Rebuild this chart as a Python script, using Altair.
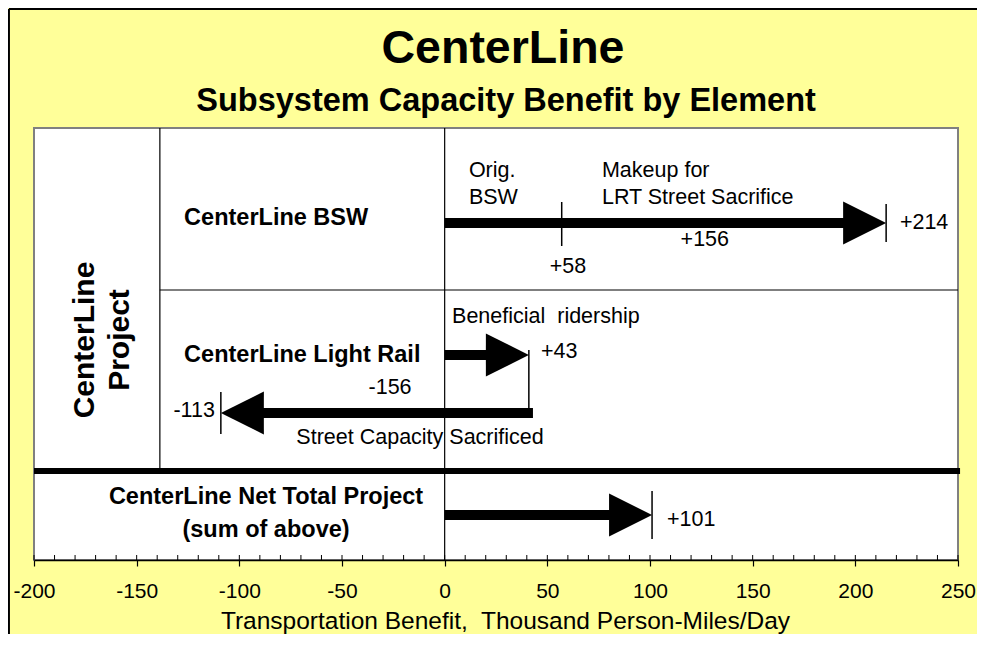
import altair as alt
import pandas as pd

# ---------------- data ----------------
arrow_ids = ["bsw", "lrt_plus", "lrt_minus", "net"]
arrow_start = [0, 0, 43, 0]
arrow_end = [215, 41, -109, 101]
mid_tick = [57]                     # the +58 boundary on the BSW arrow
axis_values = [-200, -150, -100, -50, 0, 50, 100, 150, 200, 250]
minor_values = list(range(-200, 251, 10))

note_texts = ["Orig.", "BSW", "Makeup for", "LRT Street Sacrifice",
              "+156", "+58", "+214", "Beneficial\u00a0 ridership", "+43",
              "-156", "-113", "Street Capacity Sacrificed", "+101"]
row_texts = ["CenterLine BSW", "CenterLine Light Rail",
             "CenterLine Net Total Project", "(sum of above)"]
group_texts = ["CenterLine", "Project"]
title_text = "CenterLine"
subtitle_text = "Subsystem Capacity Benefit by Element"
axis_title = "Transportation Benefit,\u00a0 Thousand Person-Miles/Day"

# ---------------- layout (plot-pixel lanes from top, x in axis units) ----------------
W, H = 924, 432
lane = {"bsw": 95, "lrt_plus": 227, "lrt_minus": 285, "net": 387}
SEP_X = -138.7
ROW_SEP = 162
THICK = 343

note_x = [11.8, 11.8, 76.6, 76.6, 126.7, 60, 221.7, 3.6, 46.9, -26.6, -111.9, -12, 108.3]
note_y = [43, 70, 43, 70, 112, 139, 95, 189, 224, 260, 283, 310, 392]
note_align = ["left", "left", "left", "left", "center", "center", "left", "left",
              "left", "center", "right", "center", "left"]
row_x = [-126.9, -126.9, -87, -87]
row_y = [90, 227, 369, 402]
row_align = ["left", "left", "center", "center"]
group_x = [-175.2, -158.1]
group_y = [212, 212]

FONT = "Liberation Sans"
BG = "#ffff99"

xs = alt.Scale(domain=[-200, 250], nice=False, zero=False)
ys = alt.Scale(domain=[0, H], reverse=True, nice=False, zero=False)

# arrows
arr = pd.DataFrame({"id": arrow_ids, "start": arrow_start, "end": arrow_end})
arr["lane"] = arr["id"].map(lane)
arr["sign"] = [1 if e > s else -1 for s, e in zip(arrow_start, arrow_end)]
arr["bar_end"] = arr["end"] - arr["sign"] * 6

bars = alt.Chart(arr).mark_rule(strokeWidth=10, color="black").encode(
    x=alt.X("start:Q", scale=xs), x2="bar_end:Q",
    y=alt.Y("lane:Q", scale=ys))

heads_r = alt.Chart(arr[arr["sign"] > 0]).mark_point(
    shape="M-2,-1L0,0L-2,1Z", size=43 * 43, filled=True, color="black",
    opacity=1).encode(
    x=alt.X("end:Q", scale=xs), y=alt.Y("lane:Q", scale=ys))
heads_l = alt.Chart(arr[arr["sign"] < 0]).mark_point(
    shape="M2,-1L0,0L2,1Z", size=43 * 43, filled=True, color="black",
    opacity=1).encode(
    x=alt.X("end:Q", scale=xs), y=alt.Y("lane:Q", scale=ys))

# tick marks at arrow ends
tk = pd.DataFrame({
    "x": [arrow_end[0], mid_tick[0], arrow_end[1], arrow_end[2], arrow_end[3]],
    "y1": [lane["bsw"] - 19, lane["bsw"] - 21, lane["lrt_plus"] - 5,
           lane["lrt_minus"] - 21, lane["net"] - 24],
    "y2": [lane["bsw"] + 19, lane["bsw"] + 23, lane["lrt_minus"] + 5,
           lane["lrt_minus"] + 21, lane["net"] + 24],
})
ticks = alt.Chart(tk).mark_rule(color="black", strokeWidth=1.5).encode(
    x=alt.X("x:Q", scale=xs), y=alt.Y("y1:Q", scale=ys), y2="y2:Q")

# table structure: vertical lines, horizontal lines
vlines = pd.DataFrame({"x": [0, SEP_X], "y": [0, 0], "y2": [H, THICK]})
vl = alt.Chart(vlines).mark_rule(color="black", strokeWidth=1.2).encode(
    x=alt.X("x:Q", scale=xs), y=alt.Y("y:Q", scale=ys), y2="y2:Q")
hlines = pd.DataFrame({"x": [SEP_X], "x2": [250], "y": [ROW_SEP]})
hl = alt.Chart(hlines).mark_rule(color="black", strokeWidth=1.2).encode(
    x=alt.X("x:Q", scale=xs), x2="x2:Q", y=alt.Y("y:Q", scale=ys))
thick_df = pd.DataFrame({"x": [-200], "x2": [251], "y": [THICK]})
thick = alt.Chart(thick_df).mark_rule(color="black", strokeWidth=6).encode(
    x=alt.X("x:Q", scale=xs), x2="x2:Q", y=alt.Y("y:Q", scale=ys))

minor_df = pd.DataFrame({"x": minor_values})
minor_df["y"] = H - 5
minor_df["y2"] = H
minor = alt.Chart(minor_df).mark_rule(color="black", strokeWidth=1).encode(
    x=alt.X("x:Q", scale=xs), y=alt.Y("y:Q", scale=ys), y2="y2:Q")

# texts
notes = pd.DataFrame({"t": note_texts, "x": note_x, "y": note_y, "a": note_align})
rows = pd.DataFrame({"t": row_texts, "x": row_x, "y": row_y, "a": row_align})


def text_layers(df, **kw):
    out = []
    for a in ["left", "center", "right"]:
        part = df[df["a"] == a].reset_index(drop=True)
        if len(part):
            out.append(alt.Chart(part).mark_text(align=a, baseline="middle",
                                                 color="black", font=FONT, **kw).encode(
                x=alt.X("x:Q", scale=xs), y=alt.Y("y:Q", scale=ys), text="t:N"))
    return out


note_layers = text_layers(notes, fontSize=21.5)
row_layers = text_layers(rows, fontSize=23.5, fontWeight="bold")

grp = alt.Chart(pd.DataFrame({"t": group_texts, "x": group_x, "y": group_y})).mark_text(
    angle=270, align="center", baseline="middle", fontSize=30, fontWeight="bold",
    font=FONT, color="black").encode(
    x=alt.X("x:Q", scale=xs), y=alt.Y("y:Q", scale=ys), text="t:N")

ttl = alt.Chart(pd.DataFrame({"t": [title_text], "x": [28.4], "y": [-65]})).mark_text(
    align="center", baseline="alphabetic", fontSize=46.5, fontWeight="bold",
    font=FONT, color="black").encode(
    x=alt.X("x:Q", scale=xs), y=alt.Y("y:Q", scale=ys), text="t:N")
subt = alt.Chart(pd.DataFrame({"t": [subtitle_text], "x": [29.9], "y": [-17]})).mark_text(
    align="center", baseline="alphabetic", fontSize=32.5, fontWeight="bold",
    font=FONT, color="black").encode(
    x=alt.X("x:Q", scale=xs), y=alt.Y("y:Q", scale=ys), text="t:N")

# outer frame (top and left edges)
frame_df = pd.DataFrame({"x": [-212.2, -212.2], "x2": [260, -212.2],
                         "y": [-119, -119], "y2": [-119, 520]})
frame = alt.Chart(frame_df).mark_rule(color="black", strokeWidth=2).encode(
    x=alt.X("x:Q", scale=xs), x2="x2:Q", y=alt.Y("y:Q", scale=ys), y2="y2:Q")

# axis carrier
axis_layer = alt.Chart(pd.DataFrame({"x": [-200, 250], "y": [0, 0]})).mark_point(opacity=0).encode(
    x=alt.X("x:Q", scale=xs, title=axis_title,
            axis=alt.Axis(values=axis_values, labelExpr="'' + datum.value",
                          labelFlush=False, labelOverlap=False,
                          labelFontSize=21, labelColor="black", labelFont=FONT,
                          labelPadding=14, tickSize=6, tickColor="black",
                          tickWidth=1.2, domainColor="black", domainWidth=1.5,
                          grid=False, titleFontSize=24.5, titleFontWeight="normal",
                          titleColor="black", titleFont=FONT, titlePadding=8,
                          titleX=471, titleAlign="center")),
    y=alt.Y("y:Q", scale=ys, axis=None))

chart = alt.layer(
    axis_layer, vl, hl, thick, minor, bars, heads_r, heads_l, ticks,
    *note_layers, *row_layers, grp, ttl, subt, frame
).properties(
    width=W, height=H,
    autosize=alt.AutoSizeParams(type="none"),
    padding={"left": 26, "top": 120, "right": 19, "bottom": 74},
    background=BG,
).configure_view(
    fill="white", stroke="#808080", strokeWidth=2
)

chart.save("out.html", embed_options={"renderer": "svg", "actions": False})
